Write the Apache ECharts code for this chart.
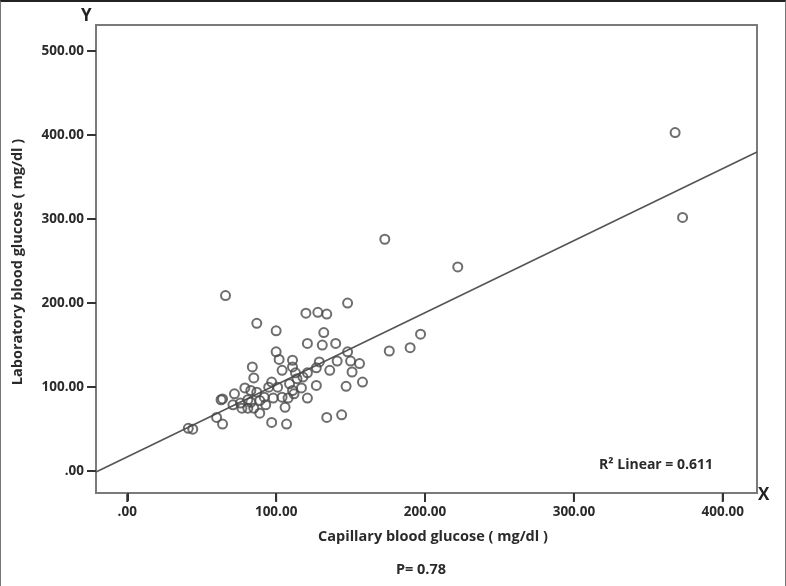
<!DOCTYPE html>
<html>
<head>
<meta charset="utf-8">
<script src="https://cdn.jsdelivr.net/npm/echarts@6/dist/echarts.min.js"></script>
<style>
html,body{margin:0;padding:0;background:#fff;}
#frame{position:absolute;left:0;top:0;width:784px;height:585px;border:1px solid #777;border-top:2px solid #222;box-sizing:content-box;pointer-events:none;background:transparent;}
#chart{position:absolute;left:0;top:0;width:786px;height:586px;}
</style>
</head>
<body>
<div id="chart"></div>
<div id="frame"></div>
<script>
// Capillary blood glucose (x) and laboratory blood glucose (y), mg/dl
const capillary = [368,373,222,173,66,148,120,128,134,87,100,132,121,131,140,100,148,176,190,197,
  102,111,84,141,150,156,129,136,151,104,111,85,158,147,79,97,113,121,127,127,
  121,106,89,83,77,89,97,107,134,144,101,104,108,111,117,83,87,85,93,98,
  64,72,60,64,41,44,71,76,81,81,63,114,109,92,95,118,112];
const laboratory = [403,302,243,276,209,200,188,189,187,176,167,165,152,150,152,142,142,143,147,163,
  133,132,124,131,131,128,130,120,118,120,124,111,106,101,99,106,117,117,123,102,
  87,76,84,82,75,69,58,56,64,67,100,88,87,96,99,96,94,75,79,87,
  86,92,64,56,51,50,79,81,85,75,85,110,104,88,100,112,92];
const xTicks = [0,100,200,300,400];
const yTicks = [0,100,200,300,400,500];
const fitIntercept = 17;
const fitSlope = 0.858;
const r2Label = 'R\u00B2 Linear = 0.611';
const xTitle = 'Capillary blood glucose ( mg/dl )';
const yTitle = 'Laboratory blood glucose ( mg/dl )';
const pLabel = 'P= 0.78';

const xMin = -21, xMax = 423, yMin = -26, yMax = 531;
const points = capillary.map((v, i) => [v, laboratory[i]]);
const fitLine = [[xMin, fitIntercept + fitSlope * xMin], [xMax, fitIntercept + fitSlope * xMax]];
const fmt = v => { const s = v.toFixed(2); return v === 0 ? '.00' : s; };
const font = '"Open Sans", "Liberation Sans", sans-serif';
const frameColor = '#7a7a7a';

const chart = echarts.init(document.getElementById('chart'), null, {renderer: 'canvas'});
chart.setOption({
  animation: false,
  grid: {left: 96, top: 25, right: 29, bottom: 93, show: true, borderColor: frameColor, borderWidth: 2},
  xAxis: [{
    type: 'value', min: xMin, max: xMax, position: 'bottom',
    axisLine: {show: true, onZero: false, lineStyle: {color: frameColor, width: 2}},
    splitLine: {show: false},
    axisTick: {show: true, customValues: xTicks, length: 8, lineStyle: {color: '#333', width: 2}},
    axisLabel: {show: true, customValues: xTicks, formatter: fmt, margin: 12, color: '#2a2a2a', fontSize: 13.5, fontWeight: 'bold', fontFamily: font}
  }],
  yAxis: [{
    type: 'value', min: yMin, max: yMax, position: 'left',
    axisLine: {show: true, onZero: false, lineStyle: {color: frameColor, width: 2}},
    splitLine: {show: false},
    axisTick: {show: true, customValues: yTicks, length: 9, lineStyle: {color: '#333', width: 2}},
    axisLabel: {customValues: yTicks, formatter: fmt, margin: 12, color: '#2a2a2a', fontSize: 13.5, fontWeight: 'bold', fontFamily: font}
  }],
  series: [
    {
      type: 'line', data: fitLine, showSymbol: false, symbol: 'none',
      lineStyle: {color: '#555', width: 1.6}, z: 1, silent: true
    },
    {
      type: 'scatter', data: points, symbol: 'circle', symbolSize: 9,
      itemStyle: {color: 'rgba(255,255,255,0)', borderColor: '#4a4a4a', borderWidth: 2}, z: 2
    },
    {
      // x-axis tick marks under the frame, placed by the axis scale
      type: 'scatter', clip: false, silent: true, z: 5,
      data: xTicks.map(v => [v, yMin]),
      symbol: 'rect', symbolSize: [2, 8], symbolOffset: [0, 5],
      itemStyle: {color: '#333', opacity: 1}
    }
  ],
  graphic: [
    {type: 'text', left: 81, top: 8, style: {text: 'Y', font: 'bold 17px ' + font, fill: '#222'}},
    {type: 'text', left: 758, top: 487, style: {text: 'X', font: 'bold 17px ' + font, fill: '#222'}},
    {type: 'text', x: 18, y: 262, rotation: Math.PI / 2, style: {text: yTitle, font: 'bold 14.5px ' + font, fill: '#2a2a2a', align: 'center', verticalAlign: 'middle'}},
    {type: 'text', x: 433, y: 537, style: {text: xTitle, font: 'bold 14.5px ' + font, fill: '#2a2a2a', align: 'center', verticalAlign: 'middle'}},
    {type: 'text', x: 421, y: 570, style: {text: pLabel, font: 'bold 14.5px ' + font, fill: '#2a2a2a', align: 'center', verticalAlign: 'middle'}},
    {type: 'text', x: 713, y: 465, style: {text: r2Label, font: 'bold 14px ' + font, fill: '#2a2a2a', align: 'right', verticalAlign: 'middle'}}
  ]
});
</script>
</body>
</html>
